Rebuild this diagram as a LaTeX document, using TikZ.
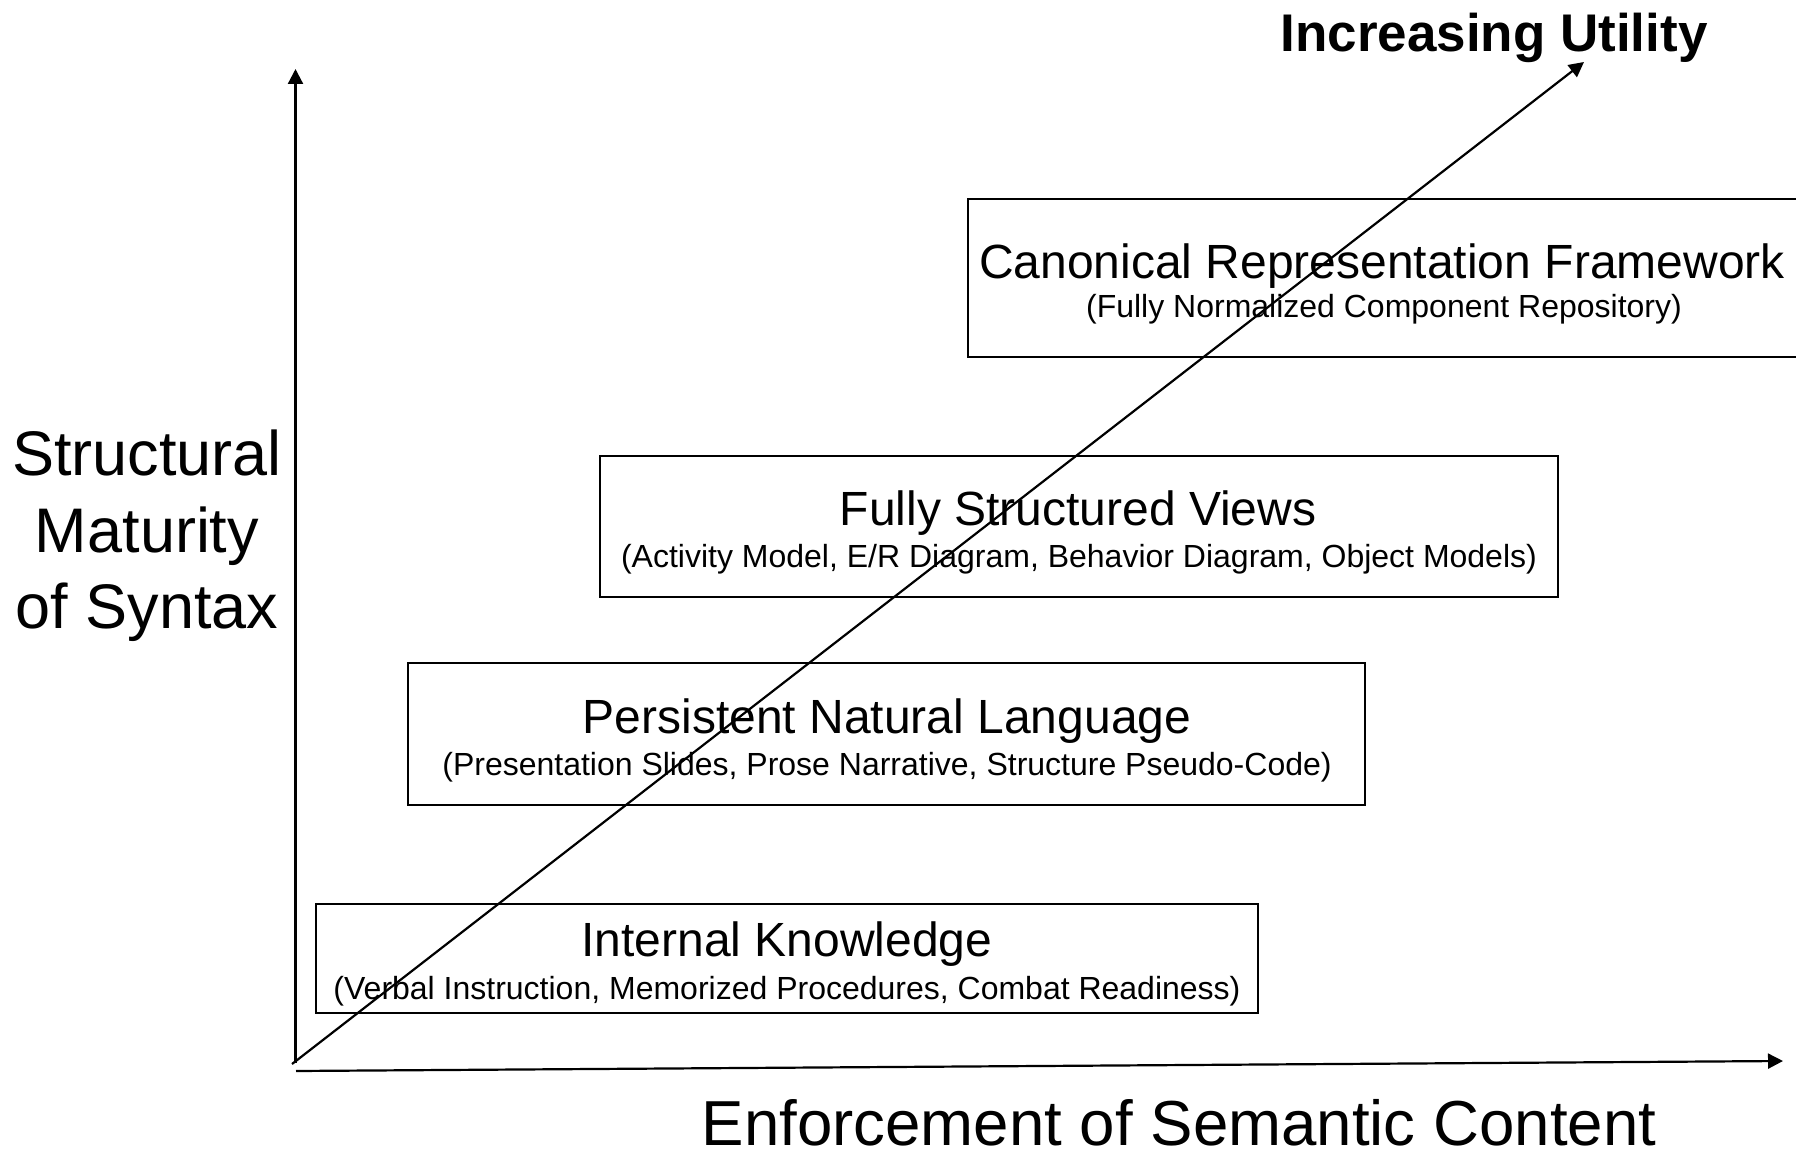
\documentclass[tikz,border=0pt]{standalone}
\usepackage{fontspec}
\setmainfont{Liberation Sans}
\usetikzlibrary{arrows.meta}
\begin{document}
\begin{tikzpicture}[x=1pt,y=-1pt,
  tier/.style={draw=black, line width=2.8pt, inner sep=0pt},
  headtext/.style={font=\fontsize{48}{56}\selectfont, anchor=base, inner sep=0pt},
  subtext/.style={font=\fontsize{32}{38}\selectfont, anchor=base, inner sep=0pt},
  axislabel/.style={font=\fontsize{63}{76}\selectfont, anchor=base, inner sep=0pt},
  axisline/.style={line width=2.2pt, -{Triangle[length=15pt,width=15pt]}}]
\useasboundingbox (0,0) rectangle (1796,1155);

% level boxes
\node[tier, minimum width=836pt, minimum height=158pt] (crf) at (1386,278) {};
\node[tier, minimum width=958pt, minimum height=141pt] (fsv) at (1079,526.5) {};
\node[tier, minimum width=957pt, minimum height=142pt] (pnl) at (886.5,734) {};
\node[tier, minimum width=942pt, minimum height=109pt] (ik) at (787,958.5) {};

% box texts
\node[headtext] (crfh) at (1382,279) {Canonical Representation Framework};
\node[subtext] (crfs) at (1384,318) {(Fully Normalized Component Repository)};
\node[headtext] (fsvh) at (1078,525) {Fully Structured Views};
\node[subtext] (fsvs) at (1079,567) {(Activity Model, E/R Diagram, Behavior Diagram, Object Models)};
\node[headtext] (pnlh) at (887,733) {Persistent Natural Language};
\node[subtext] (pnls) at (887,775) {(Presentation Slides, Prose Narrative, Structure Pseudo-Code)};
\node[headtext] (ikh) at (787,956) {Internal Knowledge};
\node[subtext] (iks) at (787,999) {(Verbal Instruction, Memorized Procedures, Combat Readiness)};

% axes
\coordinate (ybot) at (295.5,1063);
\coordinate (ytop) at (295.5,69);
\coordinate (xleft) at (296,1071);
\coordinate (xright) at (1783,1061);
\coordinate (dstart) at (292,1064);
\coordinate (dend) at (1584,62);
\draw[axisline] (ybot) -- (ytop);
\draw[axisline] (xleft) -- (xright);
\draw[axisline] (dstart) -- (dend);

% axis labels
\node[axislabel] (sm1) at (147,475) {Structural};
\node[axislabel] (sm2) at (147,552) {Maturity};
\node[axislabel] (sm3) at (147,628) {of Syntax};
\node[axislabel, font=\fontsize{63.6}{76}\selectfont] (esc) at (1179,1145) {Enforcement of Semantic Content};
\node[font=\fontsize{53}{60}\selectfont\bfseries, anchor=base, inner sep=0pt] (iu) at (1494,51.5) {Increasing Utility};
\end{tikzpicture}
\end{document}
